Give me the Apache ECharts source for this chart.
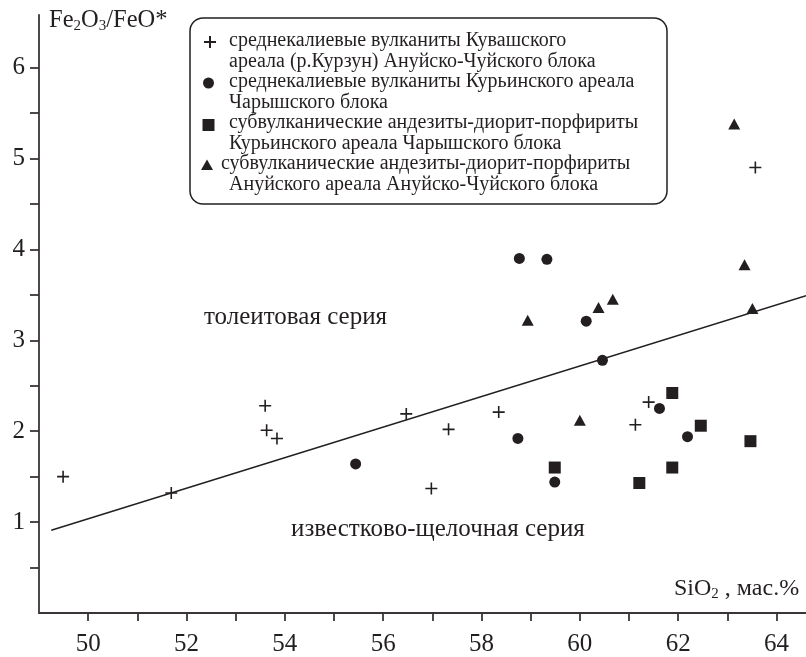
<!DOCTYPE html>
<html>
<head>
<meta charset="utf-8">
<script src="https://cdn.jsdelivr.net/npm/echarts@6/dist/echarts.min.js"></script>
<style>
  html, body { margin: 0; padding: 0; background: #fff; }
  #chart { width: 806px; height: 657px; }
</style>
</head>
<body>
<div id="chart"></div>
<script>
// SiO2 (wt.%) vs Fe2O3/FeO* for the four rock groups
const kuvashVolcanics = [
  [49.49, 1.50], [51.69, 1.32], [53.60, 2.28], [53.63, 2.01], [53.84, 1.92],
  [56.47, 2.19], [56.98, 1.37], [57.33, 2.02], [58.35, 2.21], [61.13, 2.07],
  [61.40, 2.32], [63.57, 4.90]
];
const kuryaVolcanics = [
  [55.44, 1.64], [58.74, 1.92], [58.77, 3.90], [59.33, 3.89], [59.49, 1.44],
  [60.13, 3.21], [60.46, 2.78], [61.62, 2.25], [62.19, 1.94]
];
const kuryaSubvolcanic = [
  [59.49, 1.60], [61.21, 1.43], [61.88, 1.60], [61.88, 2.42], [62.46, 2.06],
  [63.47, 1.89]
];
const anuiSubvolcanic = [
  [58.94, 3.22], [60.00, 2.12], [60.38, 3.36], [60.67, 3.45], [63.14, 5.38],
  [63.35, 3.83], [63.51, 3.35]
];
// boundary between tholeiitic and calc-alkaline series
const seriesBoundary = [[49.25, 0.91], [64.6, 3.49]];

// axis ticks and labels
const xTicks = [50, 51, 52, 53, 54, 55, 56, 57, 58, 59, 60, 61, 62, 63, 64];
const xLabels = [50, 52, 54, 56, 58, 60, 62, 64];
const yTicks = [0.5, 1, 1.5, 2, 2.5, 3, 3.5, 4, 4.5, 5, 5.5, 6];
const yLabels = [1, 2, 3, 4, 5, 6];

// legend text, two lines per group
const legendLines = [
  ['среднекалиевые вулканиты Кувашского', 'ареала (р.Курзун) Ануйско-Чуйского блока'],
  ['среднекалиевые вулканиты Курьинского ареала', 'Чарышского блока'],
  ['субвулканические андезиты-диорит-порфириты', 'Курьинского ареала Чарышского блока'],
  ['субвулканические андезиты-диорит-порфириты', 'Ануйского ареала Ануйско-Чуйского блока']
];
const fieldLabels = ['толеитовая серия', 'известково-щелочная серия'];

const INK = '#231f20';
const FONT = 'Liberation Serif';
const plusPath = 'path://M5.2,0h1.6v5.2h5.2v1.6h-5.2v5.2h-1.6v-5.2h-5.2v-1.6h5.2z';

const chart = echarts.init(document.getElementById('chart'), null, { renderer: 'canvas' });

// legend block drawn as graphic elements
const legendX = 190, legendY = 18, legendW = 477, legendH = 186;
const lineY = [41, 61.5, 82, 102.5, 123, 143.5, 164, 184.5];
const textX = [229, 229, 229, 229, 229, 229, 221, 229];
const legendGraphics = [{
  type: 'rect',
  shape: { x: legendX, y: legendY, width: legendW, height: legendH, r: 13 },
  style: { fill: '#fff', stroke: INK, lineWidth: 1.5 },
  z: 10
}];
legendLines.flat().forEach((t, i) => {
  legendGraphics.push({
    type: 'text', x: textX[i], y: lineY[i], z: 11,
    style: { text: t, font: '20px "' + FONT + '"', fill: INK, verticalAlign: 'middle', align: 'left' }
  });
});
// legend markers
legendGraphics.push(
  { type: 'line', z: 11, shape: { x1: 204, y1: 42, x2: 216, y2: 42 }, style: { stroke: INK, lineWidth: 2 } },
  { type: 'line', z: 11, shape: { x1: 210, y1: 36, x2: 210, y2: 48 }, style: { stroke: INK, lineWidth: 2 } },
  { type: 'circle', z: 11, shape: { cx: 208.5, cy: 83, r: 5.5 }, style: { fill: INK } },
  { type: 'rect', z: 11, shape: { x: 202.5, y: 119, width: 12, height: 12 }, style: { fill: INK } },
  { type: 'polygon', z: 11, shape: { points: [[207, 159.5], [213, 170], [201, 170]] }, style: { fill: INK } }
);

// axis titles and field names
const subRich = { s: { fontSize: 15, fontFamily: FONT, verticalAlign: 'bottom', padding: [11, 0, 0, 0] } };
const textGraphics = [
  {
    type: 'text', x: 49, y: 21,
    style: { text: 'Fe{s|2}O{s|3}/FeO*', font: '24.5px "' + FONT + '"', fill: INK, verticalAlign: 'middle', rich: subRich }
  },
  {
    type: 'text', x: 674, y: 589,
    style: { text: 'SiO{s|2} , мас.%', font: '24px "' + FONT + '"', fill: INK, verticalAlign: 'middle', rich: subRich }
  },
  {
    type: 'text', x: 204, y: 317,
    style: { text: fieldLabels[0], font: '25px "' + FONT + '"', fill: INK, verticalAlign: 'middle' }
  },
  {
    type: 'text', x: 291, y: 529.5,
    style: { text: fieldLabels[1], font: '25px "' + FONT + '"', fill: INK, verticalAlign: 'middle' }
  }
];

const axisLineStyle = { color: '#3a3536', width: 1.8 };

chart.setOption({
  animation: false,
  backgroundColor: '#fff',
  grid: { left: 39, right: 0, top: 14.8, bottom: 43.8, containLabel: false },
  xAxis: {
    type: 'value', min: 49, max: 64.6,
    axisLine: { show: true, onZero: false, lineStyle: axisLineStyle },
    axisTick: { show: true, inside: false, length: 8, customValues: xTicks, lineStyle: axisLineStyle },
    axisLabel: { show: true, customValues: xLabels, margin: 19, fontFamily: FONT, fontSize: 25, color: INK },
    splitLine: { show: false }
  },
  yAxis: {
    type: 'value', min: 0, max: 6.58,
    axisLine: { show: true, onZero: false, lineStyle: axisLineStyle },
    axisTick: { show: true, inside: false, length: 9, customValues: yTicks, lineStyle: axisLineStyle },
    axisLabel: { show: true, customValues: yLabels, margin: 14, fontFamily: FONT, fontSize: 25, color: INK },
    splitLine: { show: false }
  },
  graphic: legendGraphics.concat(textGraphics),
  series: [
    {
      type: 'line', data: seriesBoundary, symbol: 'none', silent: true,
      lineStyle: { color: INK, width: 1.5 }, z: 1
    },
    {
      name: legendLines[0].join(' '), type: 'scatter', data: kuvashVolcanics,
      symbol: plusPath, symbolSize: 12, itemStyle: { color: INK, opacity: 1 }, z: 3
    },
    {
      name: legendLines[1].join(' '), type: 'scatter', data: kuryaVolcanics,
      symbol: 'circle', symbolSize: 11, itemStyle: { color: INK, opacity: 1 }, z: 3
    },
    {
      name: legendLines[2].join(' '), type: 'scatter', data: kuryaSubvolcanic,
      symbol: 'rect', symbolSize: 12, itemStyle: { color: INK, opacity: 1 }, z: 3
    },
    {
      name: legendLines[3].join(' '), type: 'scatter', data: anuiSubvolcanic,
      symbol: 'triangle', symbolSize: [12, 11], itemStyle: { color: INK, opacity: 1 }, z: 3
    }
  ]
});
</script>
</body>
</html>
